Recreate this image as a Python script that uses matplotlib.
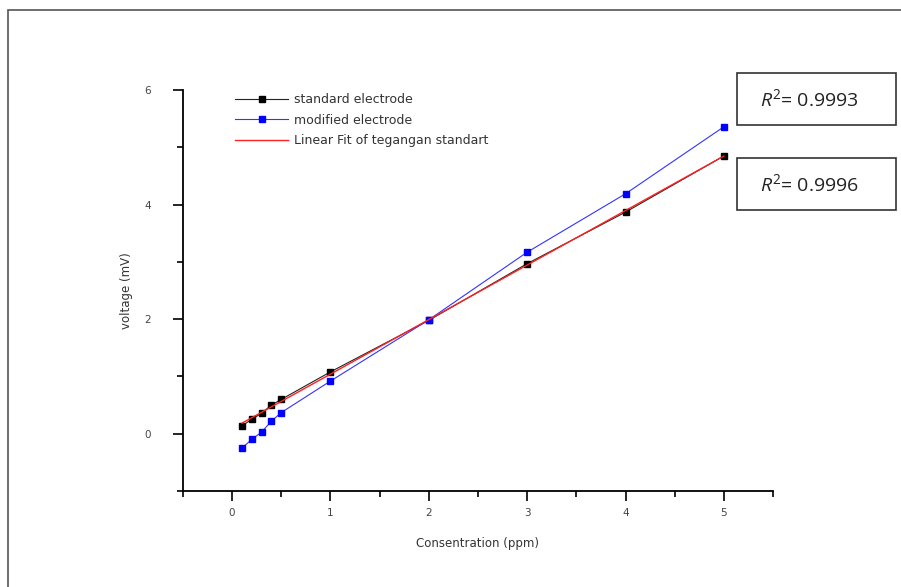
import matplotlib.pyplot as plt
from matplotlib.patches import Rectangle
from matplotlib.ticker import MultipleLocator
import numpy as np

# concentration (ppm) and measured voltage (mV)
conc = [0.1, 0.2, 0.3, 0.4, 0.5, 1, 2, 3, 4, 5]
standard = [0.14, 0.25, 0.36, 0.50, 0.60, 1.08, 1.98, 2.97, 3.87, 4.85]
modified = [-0.25, -0.10, 0.03, 0.22, 0.37, 0.92, 1.99, 3.17, 4.19, 5.36]
r2_labels = ['0.9993', '0.9996']

plt.rcParams['mathtext.fontset'] = 'custom'
plt.rcParams['mathtext.it'] = 'Open Sans:italic'
plt.rcParams['mathtext.rm'] = 'Open Sans'

fig = plt.figure(figsize=(9.01, 5.87), dpi=100)
ax = fig.add_axes([0.203, 0.1635, 0.655, 0.683])

# outer frame of the picture
fig.patches.append(Rectangle((0.009, -0.01), 1.2, 0.993, transform=fig.transFigure,
                             fill=False, edgecolor='#555555', lw=1.2))

ax.plot(conc, standard, '-', color='#222222', lw=0.8, marker='s', ms=5,
        mfc='black', mec='black', label='standard electrode')
ax.plot(conc, modified, '-', color='#3333ff', lw=0.8, marker='s', ms=5,
        mfc='#0000ff', mec='#0000ff', label='modified electrode')

# linear fit of the standard electrode
k, b = np.polyfit(conc, standard, 1)
xf = np.array([conc[0], conc[-1]])
ax.plot(xf, k * xf + b, '-', color='#ff2020', lw=1.0,
        label='Linear Fit of tegangan standart')

ax.set_xlim(-0.5, 5.5)
ax.set_ylim(-1, 6)
ax.xaxis.set_major_locator(MultipleLocator(1))
ax.xaxis.set_minor_locator(MultipleLocator(0.5))
ax.yaxis.set_major_locator(MultipleLocator(2))
ax.yaxis.set_minor_locator(MultipleLocator(1))
ax.set_xticks([0, 1, 2, 3, 4, 5])
ax.set_yticks([0, 2, 4, 6])

for s in ['top', 'right']:
    ax.spines[s].set_visible(False)
for s in ['left', 'bottom']:
    ax.spines[s].set_linewidth(1.3)
ax.tick_params(which='major', direction='out', length=7, width=1.2,
               labelsize=7.5, labelcolor='#444444', pad=5)
ax.tick_params(which='minor', direction='out', length=4, width=1.2)
ax.tick_params(axis='y', pad=16)

ax.set_xlabel('Consentration (ppm)', fontsize=8.5, color='#333333', labelpad=14)
ax.set_ylabel('voltage (mV)', fontsize=8.5, color='#333333', labelpad=8)

leg = ax.legend(loc='upper left', bbox_to_anchor=(0.07, 1.02), frameon=False,
                fontsize=9, handlelength=4.2, numpoints=1, labelspacing=0.6,
                handletextpad=0.5)
for t in leg.get_texts():
    t.set_color('#333333')

# R^2 boxes to the right of the plot
for txt, (x0, y0) in zip(r2_labels, [(0.818, 0.787), (0.818, 0.643)]):
    fig.patches.append(Rectangle((x0, y0), 0.177, 0.088, transform=fig.transFigure,
                                 fill=False, edgecolor='#333333', lw=1.2))
    fig.text(x0 + 0.08, y0 + 0.044, r'$R^2$= ' + txt, ha='center', va='center',
             fontsize=14, color='#222222', family='Open Sans')

fig.savefig('out.png', dpi=100)
